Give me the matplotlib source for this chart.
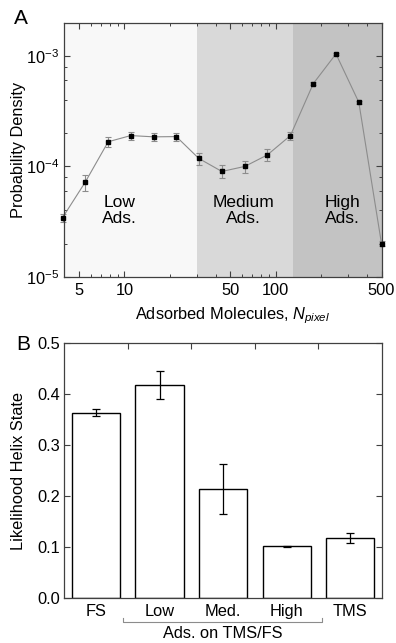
import matplotlib
matplotlib.use("Agg")
import matplotlib.pyplot as plt
import matplotlib.ticker as mticker
import matplotlib.transforms as mtransforms
import numpy as np

plt.rcParams['font.family'] = ['Liberation Sans', 'DejaVu Sans']
plt.rcParams['mathtext.fontset'] = 'custom'
plt.rcParams['mathtext.rm'] = 'Liberation Sans'
plt.rcParams['mathtext.it'] = 'Liberation Sans:italic'
plt.rcParams['mathtext.bf'] = 'Liberation Sans:bold'

# ---------------- Panel A data ----------------
n_pixel = [3.9, 5.5, 7.8, 11, 15.6, 22, 31, 44, 62.5, 88, 125, 177, 250, 354, 500]
prob_density = [3.45e-5, 7.2e-5, 1.67e-4, 1.9e-4, 1.85e-4, 1.86e-4, 1.18e-4, 9.0e-5,
                1.0e-4, 1.27e-4, 1.9e-4, 5.6e-4, 1.04e-3, 3.8e-4, 2.0e-5]
prob_err = [3e-6, 1.2e-5, 1.6e-5, 1.5e-5, 1.7e-5, 1.5e-5, 1.4e-5, 1.2e-5,
            1.3e-5, 1.6e-5, 1.5e-5, 1.5e-5, 2.0e-5, 1.0e-5, 1.0e-6]
region_edges = [4, 30, 130, 500]
region_colors = ['#f8f8f8', '#d9d9d9', '#c3c3c3']
region_labels = ['Low\nAds.', 'Medium\nAds.', 'High\nAds.']
region_label_x = [9.3, 61, 275]

# ---------------- Panel B data ----------------
categories = ['FS', 'Low', 'Med.', 'High', 'TMS']
likelihood = [0.364, 0.418, 0.214, 0.102, 0.118]
likelihood_err = [0.007, 0.027, 0.050, 0.001, 0.010]

W, H = 396, 643
fig = plt.figure(figsize=(W / 100, H / 100), dpi=100)
FS = 11.8

def frac_rect(l, t, r, b):
    return [l / W, 1 - b / H, (r - l) / W, (b - t) / H]

spine_col = '#404040'

# ---------------- Panel A ----------------
axA = fig.add_axes(frac_rect(64.3, 22.5, 381.5, 277))
axA.set_xscale('log')
axA.set_yscale('log')
axA.set_xlim(region_edges[0], region_edges[-1])
axA.set_ylim(1e-5, 2e-3)

for i in range(len(region_colors)):
    axA.axvspan(region_edges[i], region_edges[i + 1], color=region_colors[i], lw=0, zorder=0)

axA.errorbar(n_pixel, prob_density, yerr=prob_err, fmt='-', color='#8c8c8c', lw=0.8,
             ecolor='#8c8c8c', elinewidth=0.8, capsize=2, capthick=0.8, zorder=2, clip_on=False)
axA.plot(n_pixel, prob_density, 's', color='black', ms=3.2, zorder=3, clip_on=False)

for lab, xp in zip(region_labels, region_label_x):
    axA.text(xp, 0.262, lab, transform=mtransforms.blended_transform_factory(axA.transData, axA.transAxes),
             ha='center', va='center', fontsize=12.5, linespacing=1.1)

axA.xaxis.set_major_locator(mticker.FixedLocator([5, 10, 50, 100, 500]))
axA.xaxis.set_major_formatter(mticker.FixedFormatter(['5', '10', '50', '100', '500']))
axA.xaxis.set_minor_locator(mticker.LogLocator(base=10, subs=np.arange(2, 10), numticks=20))
axA.xaxis.set_minor_formatter(mticker.NullFormatter())

axA.yaxis.set_major_locator(mticker.FixedLocator([1e-5, 1e-4, 1e-3]))
axA.yaxis.set_major_formatter(mticker.FixedFormatter(['10$^{-5}$', '10$^{-4}$', '10$^{-3}$']))
axA.yaxis.set_minor_locator(mticker.LogLocator(base=10, subs=[2, 4, 6, 8], numticks=20))
axA.yaxis.set_minor_formatter(mticker.NullFormatter())

axA.tick_params(which='both', direction='in', top=True, right=True, colors=spine_col,
                labelcolor='black', labelsize=FS)
axA.tick_params(which='major', length=4.5, width=0.8)
axA.tick_params(which='minor', length=2.5, width=0.7)
axA.tick_params(axis='x', pad=4)
axA.tick_params(axis='y', pad=4)
for s in axA.spines.values():
    s.set_color(spine_col)
    s.set_linewidth(0.9)

axA.set_ylabel('Probability Density', fontsize=FS)
axA.yaxis.set_label_coords(-0.12, 0.5)
axA.text(0.529, -0.112, 'Adsorbed Molecules, $N_{pixel}$', transform=axA.transAxes,
         ha='center', va='top', fontsize=FS)
fig.text(21 / W, 1 - 18 / H, 'A', fontsize=15, ha='center', va='center')

# ---------------- Panel B ----------------
axB = fig.add_axes(frac_rect(64.3, 343.3, 382, 598))
xpos = np.arange(len(categories))
axB.bar(xpos, likelihood, width=0.76, color='white', edgecolor='black', lw=1.0, zorder=2)
axB.errorbar(xpos, likelihood, yerr=likelihood_err, fmt='none', ecolor='black',
             elinewidth=0.9, capsize=3, capthick=0.9, zorder=3)
axB.set_xlim(-0.5, 4.5)
axB.set_ylim(0, 0.5)
axB.set_xticks(xpos)
axB.set_xticklabels(categories)
axB.set_yticks(np.arange(0, 0.51, 0.1))
axB.yaxis.set_major_formatter(mticker.FormatStrFormatter('%.1f'))
axB.xaxis.set_minor_locator(mticker.FixedLocator(xpos[:-1] + 0.5))
axB.tick_params(axis='x', which='major', length=0, pad=4, labelsize=FS)
axB.tick_params(axis='x', which='minor', direction='in', top=True, bottom=False, length=4, width=0.8,
                colors=spine_col)
axB.tick_params(axis='y', which='major', direction='in', right=True, length=4.5, width=0.8,
                colors=spine_col, labelcolor='black', labelsize=FS, pad=3)
for s in axB.spines.values():
    s.set_color(spine_col)
    s.set_linewidth(0.9)
axB.set_ylabel('Likelihood Helix State', fontsize=FS)
axB.yaxis.set_label_coords(-0.12, 0.5)

tr = mtransforms.blended_transform_factory(axB.transData, axB.transAxes)
axB.plot([0.43, 0.43, 3.55, 3.55], [-0.078, -0.094, -0.094, -0.078], color='#8c8c8c',
         lw=0.8, transform=tr, clip_on=False)
axB.text(2, -0.11, 'Ads. on TMS/FS', transform=tr, ha='center', va='top', fontsize=FS)
fig.text(23 / W, 1 - 345 / H, 'B', fontsize=15, ha='center', va='center')

fig.savefig('out.png', dpi=100)
